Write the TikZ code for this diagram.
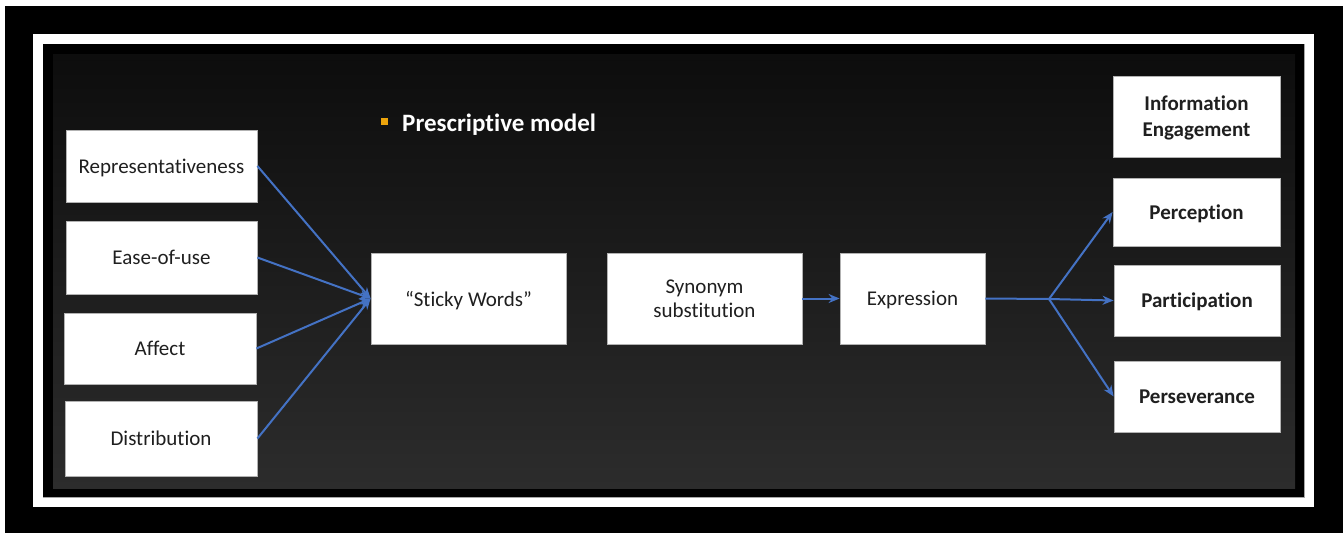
\documentclass[tikz,border=0pt]{standalone}
\usepackage{fontspec}
\setmainfont{Carlito}[Ligatures={NoCommon}]
\usetikzlibrary{arrows.meta}
\definecolor{arrowblue}{HTML}{4472C4}
\definecolor{bulletorange}{HTML}{ECA40C}
\definecolor{bgtop}{HTML}{0D0D0D}
\definecolor{bgbot}{HTML}{2C2C2C}
\tikzset{
  box/.style={draw=gray!60, line width=0.8pt, fill=white, text=black!88, font=\fontsize{21}{24}\selectfont, align=center, inner sep=0pt, text depth=0pt},
  boldbox/.style={box, font=\fontsize{21}{26}\selectfont\bfseries},
  conn/.style={draw=arrowblue, line width=2pt, -{Stealth[length=11pt,width=9pt]}},
  plain/.style={draw=arrowblue, line width=2pt}
}
\begin{document}
\begin{tikzpicture}[x=1pt,y=-1pt]
\useasboundingbox (0,0) rectangle (1344,533);
\fill[white] (0,0) rectangle (1344,533);
\fill[black] (5,6) rectangle (1343,533);
\fill[white] (33,34) rectangle (1314,507);
\draw[gray!70, line width=0.8pt] (43,44) rectangle (1304,497);
\fill[black] (43,44) rectangle (1304,497);
\shade[top color=bgtop, bottom color=bgbot] (53,54) rectangle (1295,488);

% title
\fill[bulletorange] (380.5,117.5) rectangle (387.5,125);
\node[anchor=base west, text=white, font=\fontsize{25}{28}\selectfont\bfseries, inner sep=0pt] (title) at (402,131) {Prescriptive model};

% left boxes
\node[box, minimum width=191pt, minimum height=72pt] (rep) at (161.5,166) {Representativeness};
\node[box, minimum width=191pt, minimum height=73pt] (ease) at (161.5,257.5) {Ease-of-use};
\node[box, minimum width=192pt, minimum height=71pt] (aff) at (160,348.5) {Affect};
\node[box, minimum width=192pt, minimum height=75pt] (dist) at (161,438.5) {Distribution};

% middle
\node[box, minimum width=195pt, minimum height=91pt] (sticky) at (468.5,298.5) {“Sticky Words”};
\node[box, minimum width=195pt, minimum height=91pt] (syn) at (704.5,298.5) {Synonym\\substitution};
\node[box, minimum width=145pt, minimum height=91pt] (expr) at (912.5,298.5) {Expression};

% right
\node[boldbox, minimum width=167pt, minimum height=81pt] (info) at (1196.5,116.5) {Information\\Engagement};
\node[boldbox, minimum width=167pt, minimum height=68pt] (perc) at (1196.5,212) {Perception};
\node[boldbox, minimum width=166pt, minimum height=71pt] (part) at (1197,300.5) {Participation};
\node[boldbox, minimum width=166pt, minimum height=71pt] (pers) at (1197,396.5) {Perseverance};

% connectors
\coordinate (in) at (sticky.west);
\draw[conn] (rep.east) -- (in);
\draw[conn] (ease.east) -- (in);
\draw[conn] (aff.east) -- (in);
\draw[conn] (dist.east) -- (in);
\draw[conn] (syn.east) -- (expr.west);
\coordinate (br) at (1049,299);
\draw[plain] (expr.east) -- (br);
\draw[conn] (br) -- (perc.west);
\draw[conn] (br) -- (part.west);
\draw[conn] (br) -- (pers.west);
\end{tikzpicture}
\end{document}
